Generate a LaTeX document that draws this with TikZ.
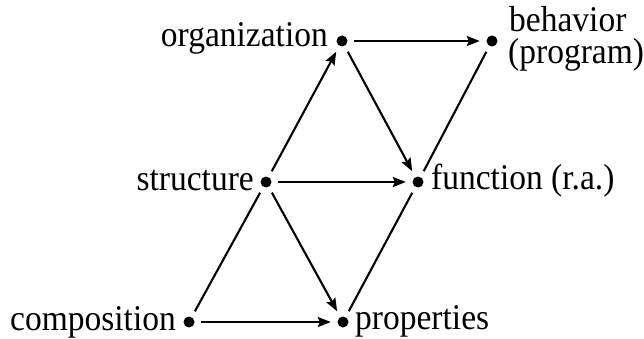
\documentclass[tikz,border=0pt]{standalone}
\usepackage{fontspec}
\usepackage{graphicx}
\setmainfont{Liberation Serif}
\usetikzlibrary{arrows.meta}
% labels are set slightly taller than the font's natural shape
\newcommand{\tallword}[1]{\scalebox{1}[1.08]{#1}}
\begin{document}
\begin{tikzpicture}[x=1pt,y=1pt,
  dot/.style={circle,fill=black,inner sep=0pt,minimum size=11pt},
  lbl/.style={inner sep=0pt,font=\fontsize{33.5}{30}\selectfont},
  link/.style={line width=2.1pt,shorten <=6.5pt,shorten >=6.5pt},
  arr/.style={link,-{Stealth[length=13pt,width=10pt,inset=2pt]}}]
  \useasboundingbox (0,0) rectangle (644,338);
  % points of the lattice
  \node[dot] (comp) at (189,16) {};
  \node[dot] (prop) at (343,16) {};
  \node[dot] (struc) at (266,156) {};
  \node[dot] (func) at (418,156) {};
  \node[dot] (org) at (342,297) {};
  \node[dot] (beh) at (492,297) {};
  % their names
  \node[lbl,anchor=base east] (tcomp) at (176,8) {\tallword{composition}};
  \node[lbl,anchor=base west] (tprop) at (355,9) {\tallword{properties}};
  \node[lbl,anchor=base east] (tstruc) at (254,148) {\tallword{structure}};
  \node[lbl,anchor=base west] (tfunc) at (431,149) {\tallword{function (r.a.)}};
  \node[lbl,anchor=base east] (torg) at (328,291) {\tallword{organization}};
  \node[lbl,anchor=base west] (tbeh) at (509,306.5) {\tallword{behavior}};
  \node[lbl,anchor=base west] (tprog) at (508,274.5) {\tallword{(program)}};
  % directed links
  \draw[arr] (comp) -- (prop);
  \draw[arr] (struc) -- (func);
  \draw[arr] (struc) -- (prop);
  \draw[arr] (struc) -- (org);
  \draw[arr] (org) -- (func);
  \draw[arr] (org) -- (beh);
  % plain links
  \draw[link] (comp) -- (struc);
  \draw[link] (prop) -- (func);
  \draw[link] (func) -- (beh);
\end{tikzpicture}
\end{document}
